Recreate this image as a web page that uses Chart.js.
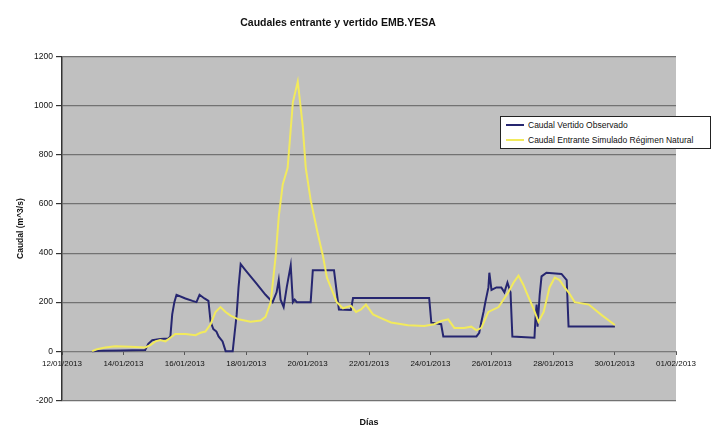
<!DOCTYPE html>
<html>
<head>
<meta charset="utf-8">
<script src="https://cdn.jsdelivr.net/npm/chart.js@4.4.1/dist/chart.umd.min.js"></script>
<style>
  html, body { margin: 0; padding: 0; background: #ffffff; }
  #wrap { position: relative; width: 719px; height: 428px; }
  #legend {
    position: absolute; left: 500px; top: 116px; width: 211px; height: 33px;
    background: #ffffff; border: 1px solid #222; box-sizing: border-box;
    font-family: "Liberation Sans", Arial, sans-serif; font-size: 8.5px; color: #111;
  }
  .row { position: absolute; left: 0; height: 12px; line-height: 12px; white-space: nowrap; }
  .swatch { position: absolute; left: 5px; top: 5px; width: 18px; height: 2px; }
  .txt { position: absolute; left: 27px; top: 0; }
</style>
</head>
<body>
<div id="wrap">
  <canvas id="c" width="719" height="428"></canvas>
  <div id="legend"></div>
</div>
<script>
// ---- data (x = days after 12/01/2013) ----
const chartTitle = 'Caudales entrante y vertido EMB.YESA';
const yAxisTitle = 'Caudal (m^3/s)';
const xAxisTitle = 'Días';
const tickLabels = ['12/01/2013','14/01/2013','16/01/2013','18/01/2013','20/01/2013','22/01/2013',
                    '24/01/2013','26/01/2013','28/01/2013','30/01/2013','01/02/2013'];
const seriesNames = ['Caudal Vertido Observado', 'Caudal Entrante Simulado Régimen Natural'];
const seriesColors = ['#262670', '#f2ea5c'];

const obsDays = [0.98,1.24,1.90,2.71,2.81,2.94,3.20,3.46,3.53,3.59,3.66,3.73,4.02,4.25,4.38,4.48,4.64,4.77,
  4.84,4.93,5.03,5.10,5.23,5.33,5.56,5.62,5.69,5.75,5.82,5.98,6.31,6.63,6.86,6.99,7.06,7.12,7.22,7.32,7.45,
  7.52,7.58,7.65,8.10,8.17,8.86,8.95,9.02,9.41,9.48,11.96,12.03,12.35,12.42,13.50,13.59,13.66,13.73,13.79,
  13.89,13.92,13.99,14.15,14.31,14.41,14.51,14.61,14.67,15.39,15.42,15.46,15.49,15.56,15.62,15.78,16.27,
  16.44,16.50,18.01];
const obsFlow = [0,2,3,5,30,45,50,52,60,150,200,230,215,205,200,230,215,205,
  120,90,80,60,40,0,0,70,150,260,355,330,280,230,200,240,290,210,180,260,350,
  200,210,200,200,330,330,240,170,168,217,217,116,110,60,60,75,120,160,200,
  260,320,250,260,260,240,280,240,60,55,130,190,100,230,305,320,315,
  290,101,101];

const simDays = [0.98,1.14,1.41,1.73,2.22,2.71,2.88,3.04,3.20,3.37,3.53,3.69,4.02,4.35,4.51,4.67,4.84,5.00,
  5.16,5.33,5.49,5.75,6.14,6.47,6.63,6.80,6.96,7.06,7.19,7.35,7.52,7.68,7.84,7.94,8.10,8.33,8.50,8.63,8.79,
  8.95,9.15,9.41,9.58,9.74,9.90,10.13,10.39,10.72,11.27,11.80,12.12,12.35,12.58,12.78,13.10,13.33,13.50,
  13.66,13.89,14.22,14.54,14.71,14.87,15.03,15.13,15.36,15.52,15.69,15.88,16.05,16.21,16.37,16.50,16.70,
  17.16,17.58,18.01];
const simFlow = [0,8,15,20,18,15,25,40,45,40,55,70,70,65,75,80,110,160,
  180,160,145,130,120,125,140,200,388,548,680,748,1015,1100,920,748,616,480,388,300,250,
  200,175,185,160,170,190,150,135,117,106,103,110,123,130,95,95,100,85,
  95,160,180,240,280,308,270,240,173,120,160,260,300,290,260,240,200,
  190,147,107];

const yTicks = { min: -200, max: 1200, step: 200 };

function pts(xs, ys) { return xs.map((x, i) => ({ x: x, y: ys[i] })); }

const plotBg = {
  id: 'plotBg',
  beforeDraw(chart) {
    const a = chart.chartArea, ctx = chart.ctx;
    ctx.save();
    ctx.fillStyle = '#c0c0c0';
    ctx.fillRect(a.left, a.top, a.right - a.left, a.bottom - a.top);
    ctx.restore();
  }
};

const FONT = '"Liberation Sans", Arial, sans-serif';

new Chart(document.getElementById('c'), {
  type: 'line',
  data: {
    datasets: [
      { label: seriesNames[1], data: pts(simDays, simFlow), borderColor: seriesColors[1],
        borderWidth: 2, pointRadius: 0, tension: 0, fill: false },
      { label: seriesNames[0], data: pts(obsDays, obsFlow), borderColor: seriesColors[0],
        borderWidth: 2, pointRadius: 0, tension: 0, fill: false }
    ]
  },
  options: {
    responsive: false,
    animation: false,
    layout: { padding: { left: 0, right: 43, top: 0, bottom: 0 } },
    plugins: {
      legend: { display: false },
      tooltip: { enabled: false },
      title: {
        display: true, text: chartTitle, color: '#111',
        font: { family: FONT, size: 10.5, weight: 'bold' },
        padding: { top: 17, bottom: 27.4 }
      }
    },
    scales: {
      x: {
        type: 'linear', min: 0, max: 20, position: { y: 0 },
        grid: { drawOnChartArea: false, drawTicks: true, tickLength: 3, color: '#555' },
        border: { display: true, color: '#7a7a7a', width: 1 },
        ticks: {
          stepSize: 2, autoSkip: false, maxRotation: 0, padding: 5, color: '#111',
          font: { family: FONT, size: 8 },
          callback: (v) => tickLabels[Math.round(v / 2)] ?? ''
        }
      },
      x2: {
        type: 'linear', min: 0, max: 20, position: 'bottom', axis: 'x',
        grid: { display: false }, border: { display: false },
        ticks: { display: false },
        title: { display: true, text: xAxisTitle, color: '#111',
                 font: { family: FONT, size: 9, weight: 'bold' }, padding: { top: 9, bottom: 0 } }
      },
      y: {
        type: 'linear', min: yTicks.min, max: yTicks.max,
        afterFit: (s) => { s.width = 62; },
        grid: { color: '#727272', lineWidth: 1.2, tickLength: 6, tickColor: '#333' },
        border: { display: true, color: '#333', width: 1.5 },
        ticks: { stepSize: yTicks.step, padding: 3, color: '#111',
                 font: { family: FONT, size: 8.5 },
                 callback: (v) => String(v) },
        title: { display: true, text: yAxisTitle, color: '#111',
                 font: { family: FONT, size: 8.5, weight: 'bold' }, padding: { top: 16, bottom: 0 } }
      }
    }
  },
  plugins: [plotBg]
});

// HTML legend (entries from the series arrays)
const leg = document.getElementById('legend');
seriesNames.forEach((name, i) => {
  const row = document.createElement('div');
  row.className = 'row';
  row.style.top = (2 + i * 15) + 'px';
  row.style.width = '100%';
  row.innerHTML = '<span class="swatch" style="background:' + seriesColors[i] + '"></span><span class="txt"></span>';
  row.querySelector('.txt').textContent = name;
  leg.appendChild(row);
});
</script>
</body>
</html>
